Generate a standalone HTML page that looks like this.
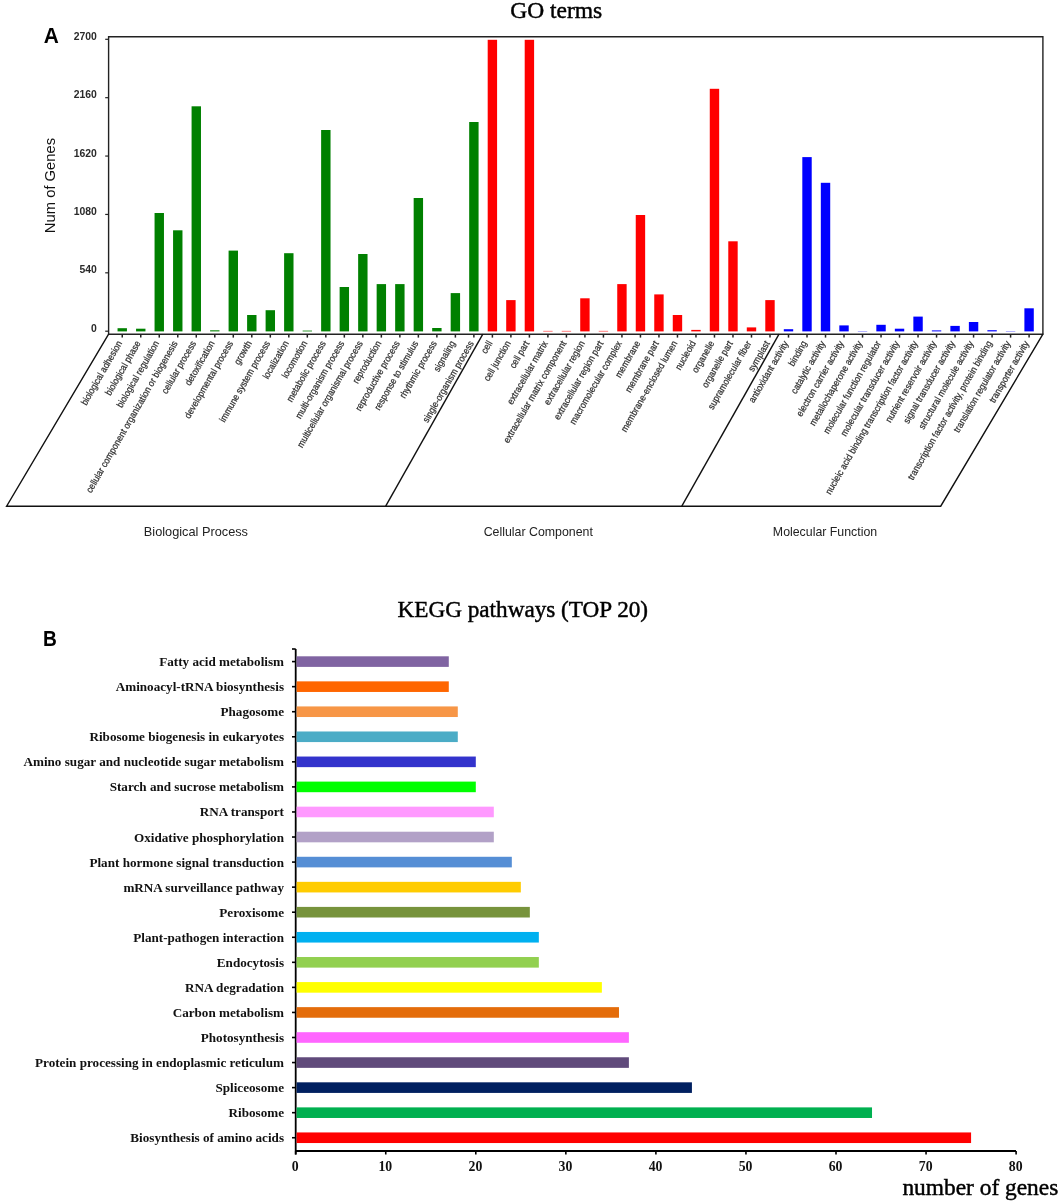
<!DOCTYPE html>
<html><head><meta charset="utf-8"><title>GO and KEGG</title>
<style>
html,body{margin:0;padding:0;background:#fff;}
svg{display:block;will-change:transform;}
.sans{font-family:"Liberation Sans",sans-serif;}
.serif{font-family:"Liberation Serif",serif;}
</style></head><body>
<svg width="1062" height="1203" viewBox="0 0 1062 1203">
<rect width="1062" height="1203" fill="#fff"/>
<text class="serif" x="556.2" y="18.3" font-size="23.5" text-anchor="middle" fill="#000" stroke="#000" stroke-width="0.45">GO terms</text>
<text class="sans" transform="translate(43.7,42.8) scale(0.95,1)" font-size="22" font-weight="bold" fill="#000">A</text>
<text class="sans" transform="translate(55.1,185.5) rotate(-90)" font-size="14.8" text-anchor="middle" fill="#111">Num of Genes</text>
<g fill="none" stroke="#222" stroke-width="1.4"><polyline points="108.6,334.2 108.6,36.7 1042.9,36.7 1042.9,334.2"/><line x1="108" y1="334.2" x2="1043.5" y2="334.2"/></g>
<g stroke="#222" stroke-width="1.2"><line x1="105.2" y1="331.20" x2="108.6" y2="331.20"/><line x1="105.2" y1="272.82" x2="108.6" y2="272.82"/><line x1="105.2" y1="214.44" x2="108.6" y2="214.44"/><line x1="105.2" y1="156.06" x2="108.6" y2="156.06"/><line x1="105.2" y1="97.68" x2="108.6" y2="97.68"/><line x1="105.2" y1="39.30" x2="108.6" y2="39.30"/></g>
<g class="sans" font-size="10.4" font-weight="bold" fill="#2a2a2a" text-anchor="end"><text x="96.8" y="331.80">0</text><text x="96.8" y="273.42">540</text><text x="96.8" y="215.04">1080</text><text x="96.8" y="156.66">1620</text><text x="96.8" y="98.28">2160</text><text x="96.8" y="39.90">2700</text></g>
<rect x="117.55" y="328.20" width="9.4" height="3.20" fill="#008000"/><rect x="136.06" y="328.70" width="9.4" height="2.70" fill="#008000"/><rect x="154.56" y="213.00" width="9.4" height="118.40" fill="#008000"/><rect x="173.07" y="230.30" width="9.4" height="101.10" fill="#008000"/><rect x="191.58" y="106.30" width="9.4" height="225.10" fill="#008000"/><rect x="210.09" y="330.30" width="9.4" height="1.10" fill="#008000"/><rect x="228.59" y="250.60" width="9.4" height="80.80" fill="#008000"/><rect x="247.10" y="315.00" width="9.4" height="16.40" fill="#008000"/><rect x="265.61" y="310.20" width="9.4" height="21.20" fill="#008000"/><rect x="284.11" y="253.20" width="9.4" height="78.20" fill="#008000"/><rect x="302.62" y="330.60" width="9.4" height="0.80" fill="#008000"/><rect x="321.13" y="130.00" width="9.4" height="201.40" fill="#008000"/><rect x="339.63" y="287.00" width="9.4" height="44.40" fill="#008000"/><rect x="358.14" y="254.00" width="9.4" height="77.40" fill="#008000"/><rect x="376.65" y="284.10" width="9.4" height="47.30" fill="#008000"/><rect x="395.16" y="284.10" width="9.4" height="47.30" fill="#008000"/><rect x="413.66" y="198.00" width="9.4" height="133.40" fill="#008000"/><rect x="432.17" y="328.00" width="9.4" height="3.40" fill="#008000"/><rect x="450.68" y="293.10" width="9.4" height="38.30" fill="#008000"/><rect x="469.18" y="122.00" width="9.4" height="209.40" fill="#008000"/><rect x="487.69" y="39.80" width="9.4" height="291.60" fill="#ff0000"/><rect x="506.20" y="300.10" width="9.4" height="31.30" fill="#ff0000"/><rect x="524.70" y="39.80" width="9.4" height="291.60" fill="#ff0000"/><rect x="543.21" y="330.90" width="9.4" height="0.50" fill="#ff0000"/><rect x="561.72" y="330.90" width="9.4" height="0.50" fill="#ff0000"/><rect x="580.22" y="298.30" width="9.4" height="33.10" fill="#ff0000"/><rect x="598.73" y="330.90" width="9.4" height="0.50" fill="#ff0000"/><rect x="617.24" y="284.10" width="9.4" height="47.30" fill="#ff0000"/><rect x="635.75" y="215.00" width="9.4" height="116.40" fill="#ff0000"/><rect x="654.25" y="294.40" width="9.4" height="37.00" fill="#ff0000"/><rect x="672.76" y="315.00" width="9.4" height="16.40" fill="#ff0000"/><rect x="691.27" y="329.90" width="9.4" height="1.50" fill="#ff0000"/><rect x="709.77" y="88.80" width="9.4" height="242.60" fill="#ff0000"/><rect x="728.28" y="241.30" width="9.4" height="90.10" fill="#ff0000"/><rect x="746.79" y="327.40" width="9.4" height="4.00" fill="#ff0000"/><rect x="765.29" y="300.10" width="9.4" height="31.30" fill="#ff0000"/><rect x="783.80" y="329.20" width="9.4" height="2.20" fill="#0000ff"/><rect x="802.31" y="157.10" width="9.4" height="174.30" fill="#0000ff"/><rect x="820.82" y="182.80" width="9.4" height="148.60" fill="#0000ff"/><rect x="839.32" y="325.40" width="9.4" height="6.00" fill="#0000ff"/><rect x="857.83" y="331.10" width="9.4" height="0.30" fill="#0000ff"/><rect x="876.34" y="324.80" width="9.4" height="6.60" fill="#0000ff"/><rect x="894.84" y="328.70" width="9.4" height="2.70" fill="#0000ff"/><rect x="913.35" y="316.60" width="9.4" height="14.80" fill="#0000ff"/><rect x="931.86" y="330.40" width="9.4" height="1.00" fill="#0000ff"/><rect x="950.37" y="325.90" width="9.4" height="5.50" fill="#0000ff"/><rect x="968.87" y="322.00" width="9.4" height="9.40" fill="#0000ff"/><rect x="987.38" y="330.20" width="9.4" height="1.20" fill="#0000ff"/><rect x="1005.89" y="331.10" width="9.4" height="0.30" fill="#0000ff"/><rect x="1024.39" y="308.30" width="9.4" height="23.10" fill="#0000ff"/>
<g stroke="#222" stroke-width="1.5"><line x1="122.25" y1="334" x2="122.25" y2="337.6"/><line x1="140.76" y1="334" x2="140.76" y2="337.6"/><line x1="159.26" y1="334" x2="159.26" y2="337.6"/><line x1="177.77" y1="334" x2="177.77" y2="337.6"/><line x1="196.28" y1="334" x2="196.28" y2="337.6"/><line x1="214.79" y1="334" x2="214.79" y2="337.6"/><line x1="233.29" y1="334" x2="233.29" y2="337.6"/><line x1="251.80" y1="334" x2="251.80" y2="337.6"/><line x1="270.31" y1="334" x2="270.31" y2="337.6"/><line x1="288.81" y1="334" x2="288.81" y2="337.6"/><line x1="307.32" y1="334" x2="307.32" y2="337.6"/><line x1="325.83" y1="334" x2="325.83" y2="337.6"/><line x1="344.33" y1="334" x2="344.33" y2="337.6"/><line x1="362.84" y1="334" x2="362.84" y2="337.6"/><line x1="381.35" y1="334" x2="381.35" y2="337.6"/><line x1="399.86" y1="334" x2="399.86" y2="337.6"/><line x1="418.36" y1="334" x2="418.36" y2="337.6"/><line x1="436.87" y1="334" x2="436.87" y2="337.6"/><line x1="455.38" y1="334" x2="455.38" y2="337.6"/><line x1="473.88" y1="334" x2="473.88" y2="337.6"/><line x1="492.39" y1="334" x2="492.39" y2="337.6"/><line x1="510.90" y1="334" x2="510.90" y2="337.6"/><line x1="529.40" y1="334" x2="529.40" y2="337.6"/><line x1="547.91" y1="334" x2="547.91" y2="337.6"/><line x1="566.42" y1="334" x2="566.42" y2="337.6"/><line x1="584.92" y1="334" x2="584.92" y2="337.6"/><line x1="603.43" y1="334" x2="603.43" y2="337.6"/><line x1="621.94" y1="334" x2="621.94" y2="337.6"/><line x1="640.45" y1="334" x2="640.45" y2="337.6"/><line x1="658.95" y1="334" x2="658.95" y2="337.6"/><line x1="677.46" y1="334" x2="677.46" y2="337.6"/><line x1="695.97" y1="334" x2="695.97" y2="337.6"/><line x1="714.47" y1="334" x2="714.47" y2="337.6"/><line x1="732.98" y1="334" x2="732.98" y2="337.6"/><line x1="751.49" y1="334" x2="751.49" y2="337.6"/><line x1="770.00" y1="334" x2="770.00" y2="337.6"/><line x1="788.50" y1="334" x2="788.50" y2="337.6"/><line x1="807.01" y1="334" x2="807.01" y2="337.6"/><line x1="825.52" y1="334" x2="825.52" y2="337.6"/><line x1="844.02" y1="334" x2="844.02" y2="337.6"/><line x1="862.53" y1="334" x2="862.53" y2="337.6"/><line x1="881.04" y1="334" x2="881.04" y2="337.6"/><line x1="899.54" y1="334" x2="899.54" y2="337.6"/><line x1="918.05" y1="334" x2="918.05" y2="337.6"/><line x1="936.56" y1="334" x2="936.56" y2="337.6"/><line x1="955.07" y1="334" x2="955.07" y2="337.6"/><line x1="973.57" y1="334" x2="973.57" y2="337.6"/><line x1="992.08" y1="334" x2="992.08" y2="337.6"/><line x1="1010.59" y1="334" x2="1010.59" y2="337.6"/><line x1="1029.09" y1="334" x2="1029.09" y2="337.6"/></g>
<g class="sans" font-size="9.6" fill="#333" stroke="#333" stroke-width="0.25" text-anchor="end"><text transform="translate(122.45,343.2) rotate(-60) scale(0.89,1)">biological adhesion</text><text transform="translate(140.96,343.2) rotate(-60) scale(0.89,1)">biological phase</text><text transform="translate(159.46,343.2) rotate(-60) scale(0.89,1)">biological regulation</text><text transform="translate(177.97,343.2) rotate(-60) scale(0.89,1)">cellular component organization or biogenesis</text><text transform="translate(196.48,343.2) rotate(-60) scale(0.89,1)">cellular process</text><text transform="translate(214.99,343.2) rotate(-60) scale(0.89,1)">detoxification</text><text transform="translate(233.49,343.2) rotate(-60) scale(0.89,1)">developmental process</text><text transform="translate(252.00,343.2) rotate(-60) scale(0.89,1)">growth</text><text transform="translate(270.51,343.2) rotate(-60) scale(0.89,1)">immune system process</text><text transform="translate(289.01,343.2) rotate(-60) scale(0.89,1)">localization</text><text transform="translate(307.52,343.2) rotate(-60) scale(0.89,1)">locomotion</text><text transform="translate(326.03,343.2) rotate(-60) scale(0.89,1)">metabolic process</text><text transform="translate(344.53,343.2) rotate(-60) scale(0.89,1)">multi-organism process</text><text transform="translate(363.04,343.2) rotate(-60) scale(0.89,1)">multicellular organismal process</text><text transform="translate(381.55,343.2) rotate(-60) scale(0.89,1)">reproduction</text><text transform="translate(400.06,343.2) rotate(-60) scale(0.89,1)">reproductive process</text><text transform="translate(418.56,343.2) rotate(-60) scale(0.89,1)">response to stimulus</text><text transform="translate(437.07,343.2) rotate(-60) scale(0.89,1)">rhythmic process</text><text transform="translate(455.58,343.2) rotate(-60) scale(0.89,1)">signaling</text><text transform="translate(474.08,343.2) rotate(-60) scale(0.89,1)">single-organism process</text><text transform="translate(492.59,343.2) rotate(-60) scale(0.89,1)">cell</text><text transform="translate(511.10,343.2) rotate(-60) scale(0.89,1)">cell junction</text><text transform="translate(529.60,343.2) rotate(-60) scale(0.89,1)">cell part</text><text transform="translate(548.11,343.2) rotate(-60) scale(0.89,1)">extracellular matrix</text><text transform="translate(566.62,343.2) rotate(-60) scale(0.89,1)">extracellular matrix component</text><text transform="translate(585.12,343.2) rotate(-60) scale(0.89,1)">extracellular region</text><text transform="translate(603.63,343.2) rotate(-60) scale(0.89,1)">extracellular region part</text><text transform="translate(622.14,343.2) rotate(-60) scale(0.89,1)">macromolecular complex</text><text transform="translate(640.65,343.2) rotate(-60) scale(0.89,1)">membrane</text><text transform="translate(659.15,343.2) rotate(-60) scale(0.89,1)">membrane part</text><text transform="translate(677.66,343.2) rotate(-60) scale(0.89,1)">membrane-enclosed lumen</text><text transform="translate(696.17,343.2) rotate(-60) scale(0.89,1)">nucleoid</text><text transform="translate(714.67,343.2) rotate(-60) scale(0.89,1)">organelle</text><text transform="translate(733.18,343.2) rotate(-60) scale(0.89,1)">organelle part</text><text transform="translate(751.69,343.2) rotate(-60) scale(0.89,1)">supramolecular fiber</text><text transform="translate(770.20,343.2) rotate(-60) scale(0.89,1)">symplast</text><text transform="translate(788.70,343.2) rotate(-60) scale(0.89,1)">antioxidant activity</text><text transform="translate(807.21,343.2) rotate(-60) scale(0.89,1)">binding</text><text transform="translate(825.72,343.2) rotate(-60) scale(0.89,1)">catalytic activity</text><text transform="translate(844.22,343.2) rotate(-60) scale(0.89,1)">electron carrier activity</text><text transform="translate(862.73,343.2) rotate(-60) scale(0.89,1)">metallochaperone activity</text><text transform="translate(881.24,343.2) rotate(-60) scale(0.89,1)">molecular function regulator</text><text transform="translate(899.74,343.2) rotate(-60) scale(0.89,1)">molecular transducer activity</text><text transform="translate(918.25,343.2) rotate(-60) scale(0.89,1)">nucleic acid binding transcription factor activity</text><text transform="translate(936.76,343.2) rotate(-60) scale(0.89,1)">nutrient reservoir activity</text><text transform="translate(955.27,343.2) rotate(-60) scale(0.89,1)">signal transducer activity</text><text transform="translate(973.77,343.2) rotate(-60) scale(0.89,1)">structural molecule activity</text><text transform="translate(992.28,343.2) rotate(-60) scale(0.89,1)">transcription factor activity, protein binding</text><text transform="translate(1010.79,343.2) rotate(-60) scale(0.89,1)">translation regulator activity</text><text transform="translate(1029.29,343.2) rotate(-60) scale(0.89,1)">transporter activity</text></g>
<g fill="none" stroke="#111" stroke-width="1.4" stroke-linejoin="miter"><polyline points="108.6,334.2 6.6,506.2 940.7,506.2 1042.9,334.2"/><line x1="482.8" y1="334.2" x2="385.7" y2="506.2"/><line x1="779" y1="334.2" x2="681.8" y2="506.2"/></g>
<g class="sans" fill="#222"><text x="195.9" y="535.8" font-size="12.75" text-anchor="middle">Biological Process</text><text x="538.3" y="535.8" font-size="12.37" text-anchor="middle">Cellular Component</text><text x="825" y="535.8" font-size="12.35" text-anchor="middle">Molecular Function</text></g>
<text class="serif" x="522.8" y="617.4" font-size="23.2" text-anchor="middle" fill="#000" stroke="#000" stroke-width="0.45">KEGG pathways (TOP 20)</text>
<text class="sans" transform="translate(42.9,645.8) scale(0.89,1)" font-size="21.5" font-weight="bold" fill="#000">B</text>
<g stroke="#000" stroke-width="1.8" fill="none"><line x1="295.7" y1="649" x2="295.7" y2="1154.6"/><line x1="295.7" y1="1151" x2="1016" y2="1151"/></g>
<g stroke="#000" stroke-width="1.6"><line x1="292" y1="649" x2="295.7" y2="649"/><line x1="292" y1="661.60" x2="295.7" y2="661.60"/><line x1="292" y1="686.66" x2="295.7" y2="686.66"/><line x1="292" y1="711.72" x2="295.7" y2="711.72"/><line x1="292" y1="736.78" x2="295.7" y2="736.78"/><line x1="292" y1="761.84" x2="295.7" y2="761.84"/><line x1="292" y1="786.90" x2="295.7" y2="786.90"/><line x1="292" y1="811.96" x2="295.7" y2="811.96"/><line x1="292" y1="837.02" x2="295.7" y2="837.02"/><line x1="292" y1="862.08" x2="295.7" y2="862.08"/><line x1="292" y1="887.14" x2="295.7" y2="887.14"/><line x1="292" y1="912.20" x2="295.7" y2="912.20"/><line x1="292" y1="937.26" x2="295.7" y2="937.26"/><line x1="292" y1="962.32" x2="295.7" y2="962.32"/><line x1="292" y1="987.38" x2="295.7" y2="987.38"/><line x1="292" y1="1012.44" x2="295.7" y2="1012.44"/><line x1="292" y1="1037.50" x2="295.7" y2="1037.50"/><line x1="292" y1="1062.56" x2="295.7" y2="1062.56"/><line x1="292" y1="1087.62" x2="295.7" y2="1087.62"/><line x1="292" y1="1112.68" x2="295.7" y2="1112.68"/><line x1="292" y1="1137.74" x2="295.7" y2="1137.74"/><line x1="295.70" y1="1151" x2="295.70" y2="1154.5"/><line x1="385.75" y1="1151" x2="385.75" y2="1154.5"/><line x1="475.80" y1="1151" x2="475.80" y2="1154.5"/><line x1="565.85" y1="1151" x2="565.85" y2="1154.5"/><line x1="655.90" y1="1151" x2="655.90" y2="1154.5"/><line x1="745.95" y1="1151" x2="745.95" y2="1154.5"/><line x1="836.00" y1="1151" x2="836.00" y2="1154.5"/><line x1="926.05" y1="1151" x2="926.05" y2="1154.5"/><line x1="1016.10" y1="1151" x2="1016.10" y2="1154.5"/></g>
<rect x="296.6" y="656.30" width="152.19" height="10.6" fill="#8064a2"/><rect x="296.6" y="681.36" width="152.19" height="10.6" fill="#ff6600"/><rect x="296.6" y="706.42" width="161.19" height="10.6" fill="#f79646"/><rect x="296.6" y="731.48" width="161.19" height="10.6" fill="#4bacc6"/><rect x="296.6" y="756.54" width="179.20" height="10.6" fill="#3333cc"/><rect x="296.6" y="781.60" width="179.20" height="10.6" fill="#00ff00"/><rect x="296.6" y="806.66" width="197.21" height="10.6" fill="#ff99ff"/><rect x="296.6" y="831.72" width="197.21" height="10.6" fill="#b2a1c7"/><rect x="296.6" y="856.78" width="215.22" height="10.6" fill="#558ed5"/><rect x="296.6" y="881.84" width="224.23" height="10.6" fill="#ffcc00"/><rect x="296.6" y="906.90" width="233.23" height="10.6" fill="#77933c"/><rect x="296.6" y="931.96" width="242.24" height="10.6" fill="#00b0f0"/><rect x="296.6" y="957.02" width="242.24" height="10.6" fill="#92d050"/><rect x="296.6" y="982.08" width="305.27" height="10.6" fill="#ffff00"/><rect x="296.6" y="1007.14" width="322.38" height="10.6" fill="#e46c0a"/><rect x="296.6" y="1032.20" width="332.29" height="10.6" fill="#ff66ff"/><rect x="296.6" y="1057.26" width="332.29" height="10.6" fill="#604a7b"/><rect x="296.6" y="1082.32" width="395.32" height="10.6" fill="#002060"/><rect x="296.6" y="1107.38" width="575.42" height="10.6" fill="#00b050"/><rect x="296.6" y="1132.44" width="674.48" height="10.6" fill="#ff0000"/>
<g class="serif" font-size="13.15" font-weight="bold" fill="#111" text-anchor="end"><text x="284" y="666.10">Fatty acid metabolism</text><text x="284" y="691.16">Aminoacyl-tRNA biosynthesis</text><text x="284" y="716.22">Phagosome</text><text x="284" y="741.28">Ribosome biogenesis in eukaryotes</text><text x="284" y="766.34">Amino sugar and nucleotide sugar metabolism</text><text x="284" y="791.40">Starch and sucrose metabolism</text><text x="284" y="816.46">RNA transport</text><text x="284" y="841.52">Oxidative phosphorylation</text><text x="284" y="866.58">Plant hormone signal transduction</text><text x="284" y="891.64">mRNA surveillance pathway</text><text x="284" y="916.70">Peroxisome</text><text x="284" y="941.76">Plant-pathogen interaction</text><text x="284" y="966.82">Endocytosis</text><text x="284" y="991.88">RNA degradation</text><text x="284" y="1016.94">Carbon metabolism</text><text x="284" y="1042.00">Photosynthesis</text><text x="284" y="1067.06">Protein processing in endoplasmic reticulum</text><text x="284" y="1092.12">Spliceosome</text><text x="284" y="1117.18">Ribosome</text><text x="284" y="1142.24">Biosynthesis of amino acids</text></g>
<g class="serif" font-size="15.3" font-weight="bold" fill="#111" text-anchor="middle"><text transform="translate(295.30,1171) scale(0.9,1)">0</text><text transform="translate(385.35,1171) scale(0.9,1)">10</text><text transform="translate(475.40,1171) scale(0.9,1)">20</text><text transform="translate(565.45,1171) scale(0.9,1)">30</text><text transform="translate(655.50,1171) scale(0.9,1)">40</text><text transform="translate(745.55,1171) scale(0.9,1)">50</text><text transform="translate(835.60,1171) scale(0.9,1)">60</text><text transform="translate(925.65,1171) scale(0.9,1)">70</text><text transform="translate(1015.70,1171) scale(0.9,1)">80</text></g>
<text class="serif" x="902.4" y="1195" font-size="23.4" fill="#000" stroke="#000" stroke-width="0.45">number of genes</text>
</svg>
</body></html>
